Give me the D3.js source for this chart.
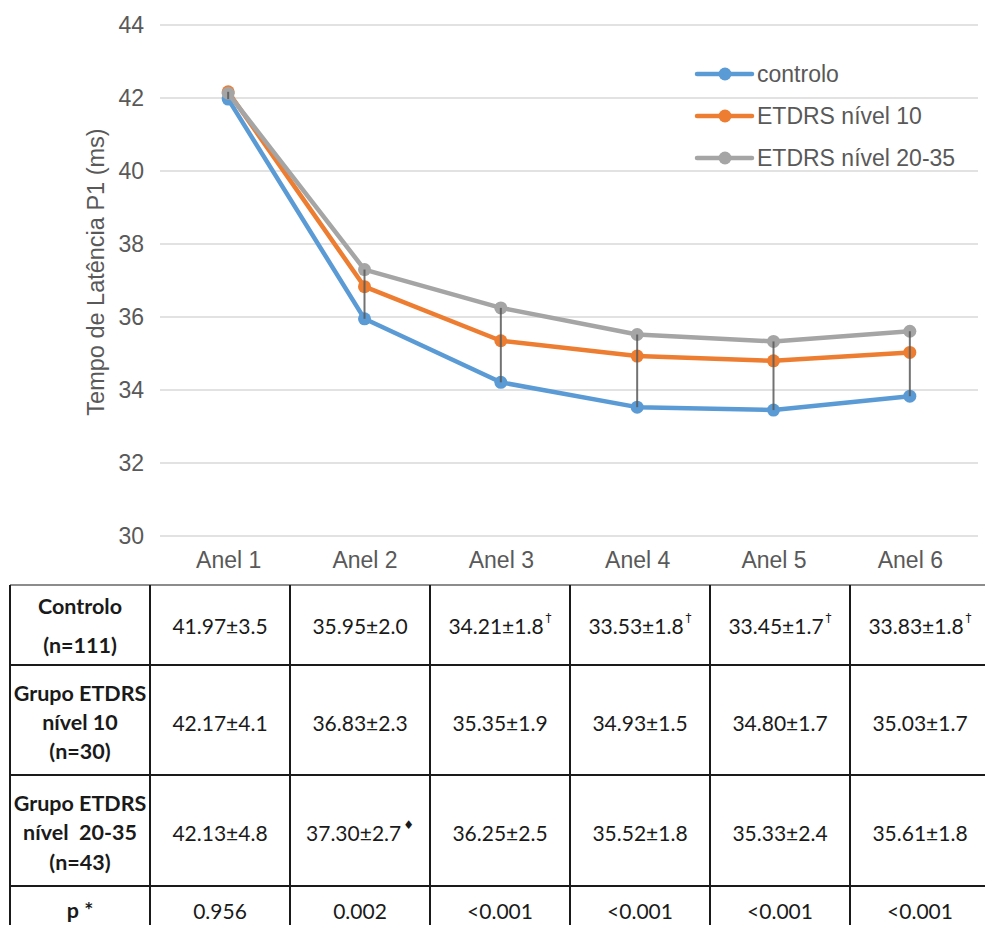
<!DOCTYPE html>
<meta charset="utf-8">
<html lang="pt">
<head>
<style>
  body { margin: 0; background: #fff; }
  .tick text { font-family: "Liberation Sans", Arial, sans-serif; font-size: 23px; fill: #595959; }
  .grid line { stroke: #d9d9d9; stroke-width: 1.5; }
  .legend text { font-family: "Liberation Sans", Arial, sans-serif; font-size: 23px; fill: #595959; }
  .cell { font-family: Lato, "Open Sans", sans-serif; font-size: 21px; fill: #1a1a1a; }
  .head { font-family: Lato, "Open Sans", sans-serif; font-size: 21.5px; font-weight: bold; fill: #1a1a1a; }
  .mark { font-family: "DejaVu Sans", sans-serif; font-size: 12px; }
</style>
</head>
<body>
<div id="chart"></div>
<script src="https://d3js.org/d3.v7.min.js"></script>
<script>
// data
var categories = ["Anel 1", "Anel 2", "Anel 3", "Anel 4", "Anel 5", "Anel 6"];
var seriesNames = ["controlo", "ETDRS nível 10", "ETDRS nível 20-35"];
var controlo = [41.97, 35.95, 34.21, 33.53, 33.45, 33.83];
var nivel10 = [42.17, 36.83, 35.35, 34.93, 34.80, 35.03];
var nivel2035 = [42.13, 37.30, 36.25, 35.52, 35.33, 35.61];
var controloSD = ["3.5", "2.0", "1.8", "1.8", "1.7", "1.8"];
var nivel10SD = ["4.1", "2.3", "1.9", "1.5", "1.7", "1.7"];
var nivel2035SD = ["4.8", "2.7", "2.5", "1.8", "2.4", "1.8"];
var controloMarks = ["", "", "†", "†", "†", "†"];
var nivel10Marks = ["", "", "", "", "", ""];
var nivel2035Marks = ["", "♦", "", "", "", ""];
var pValues = ["0.956", "0.002", "<0.001", "<0.001", "<0.001", "<0.001"];
var rowHeaders = [["Controlo", "(n=111)"], ["Grupo ETDRS", "nível 10", "(n=30)"], ["Grupo ETDRS", "nível  20-35", "(n=43)"], ["p *"]];
var yTicks = [30, 32, 34, 36, 38, 40, 42, 44];
var colors = ["#5b9bd5", "#ed7d31", "#a5a5a5"];

var width = 985, height = 925;

var svg = d3.select("#chart").append("svg")
    .attr("width", width)
    .attr("height", height);

// scales
var x = d3.scalePoint().domain(categories).range([160, 978]).padding(0.5);
var y = d3.scaleLinear().domain([30, 44]).range([536, 25]);

// grid
svg.append("g").attr("class", "grid")
  .selectAll("line").data(yTicks).enter().append("line")
    .attr("x1", 160).attr("x2", 978)
    .attr("y1", d => y(d)).attr("y2", d => y(d));

// y axis
var yAxis = svg.append("g")
    .attr("transform", "translate(152,0)")
    .call(d3.axisLeft(y).tickValues(yTicks).tickSize(0).tickPadding(8));
yAxis.select(".domain").remove();

// x axis
var xAxis = svg.append("g")
    .attr("transform", "translate(0,552)")
    .call(d3.axisBottom(x).tickSize(0).tickPadding(0));
xAxis.select(".domain").remove();
xAxis.selectAll("text").attr("dy", "0.71em");

// y title
svg.append("text")
    .attr("transform", "translate(96,272) rotate(-90)")
    .attr("text-anchor", "middle")
    .attr("dominant-baseline", "central")
    .style("font-family", "'Liberation Sans', Arial, sans-serif")
    .style("font-size", "23.5px")
    .style("fill", "#595959")
    .text("Tempo de Latência P1 (ms)");

// series
var series = [controlo, nivel10, nivel2035];
var line = d3.line().x((d, i) => x(categories[i])).y(d => y(d));

series.forEach(function(s, k) {
  svg.append("path")
    .attr("d", line(s))
    .attr("fill", "none")
    .attr("stroke", colors[k])
    .attr("stroke-width", 4.5)
    .attr("stroke-linejoin", "round");
  svg.append("g").selectAll("circle").data(s).enter().append("circle")
    .attr("cx", (d, i) => x(categories[i]))
    .attr("cy", d => y(d))
    .attr("r", 6.5)
    .attr("fill", colors[k]);
});

// high-low lines
svg.append("g").selectAll("line").data(categories).enter().append("line")
    .attr("x1", d => x(d)).attr("x2", d => x(d))
    .attr("y1", (d, i) => y(d3.max(series, s => s[i])))
    .attr("y2", (d, i) => y(d3.min(series, s => s[i])))
    .attr("stroke", "#595959")
    .attr("stroke-opacity", 0.85)
    .attr("stroke-width", 2);

// legend
var legend = svg.append("g").attr("class", "legend");
var legendY = [74, 116, 158];
seriesNames.forEach(function(name, k) {
  var g = legend.append("g").attr("transform", "translate(0," + legendY[k] + ")");
  g.append("line").attr("x1", 697).attr("x2", 752)
    .attr("stroke", colors[k]).attr("stroke-width", 4.5).attr("stroke-linecap", "round");
  g.append("circle").attr("cx", 725).attr("r", 6.5).attr("fill", colors[k]);
  g.append("text").attr("x", 757).attr("dominant-baseline", "central").text(name);
});

// table
var colX = d3.scaleLinear().domain([0, 7]).range([10, 990]);
var rowY = [585, 665, 775, 886, 945];
var headLines = [[606, 645], [693, 722, 751], [803, 832, 862], [910]];
var valueY = [625, 722, 832, 910];

var means = [controlo, nivel10, nivel2035];
var sds = [controloSD, nivel10SD, nivel2035SD];
var marks = [controloMarks, nivel10Marks, nivel2035Marks];

var table = svg.append("g");

rowHeaders.forEach(function(lines, r) {
  lines.forEach(function(t, j) {
    table.append("text").attr("class", "head")
      .attr("x", (colX(0) + colX(1)) / 2)
      .attr("y", headLines[r][j])
      .attr("text-anchor", "middle")
      .attr("dominant-baseline", "central")
      .style("white-space", "pre")
      .text(t);
  });
});

for (var r = 0; r < 3; r++) {
  categories.forEach(function(c, i) {
    var t = table.append("text").attr("class", "cell")
      .attr("x", (colX(i + 1) + colX(i + 2)) / 2)
      .attr("y", valueY[r])
      .attr("text-anchor", "middle")
      .attr("dominant-baseline", "central");
    t.append("tspan").text(means[r][i].toFixed(2) + "±" + sds[r][i]);
    if (marks[r][i]) {
      t.append("tspan").attr("class", "mark").attr("dx", 2).attr("dy", -7).text(marks[r][i]);
    }
  });
}

pValues.forEach(function(p, i) {
  table.append("text").attr("class", "cell")
    .attr("x", (colX(i + 1) + colX(i + 2)) / 2)
    .attr("y", valueY[3])
    .attr("text-anchor", "middle")
    .attr("dominant-baseline", "central")
    .text(p);
});

// borders
table.selectAll("line.h").data(rowY).enter().append("line")
    .attr("x1", colX(0)).attr("x2", colX(7))
    .attr("y1", d => d).attr("y2", d => d)
    .attr("stroke", (d, i) => i === 0 ? "#8c8c8c" : "#1a1a1a")
    .attr("stroke-width", 2);
table.selectAll("line.v").data(d3.range(8)).enter().append("line")
    .attr("x1", d => colX(d)).attr("x2", d => colX(d))
    .attr("y1", rowY[0]).attr("y2", rowY[4])
    .attr("stroke", "#1a1a1a")
    .attr("stroke-width", 2);
</script>
</body>
</html>
